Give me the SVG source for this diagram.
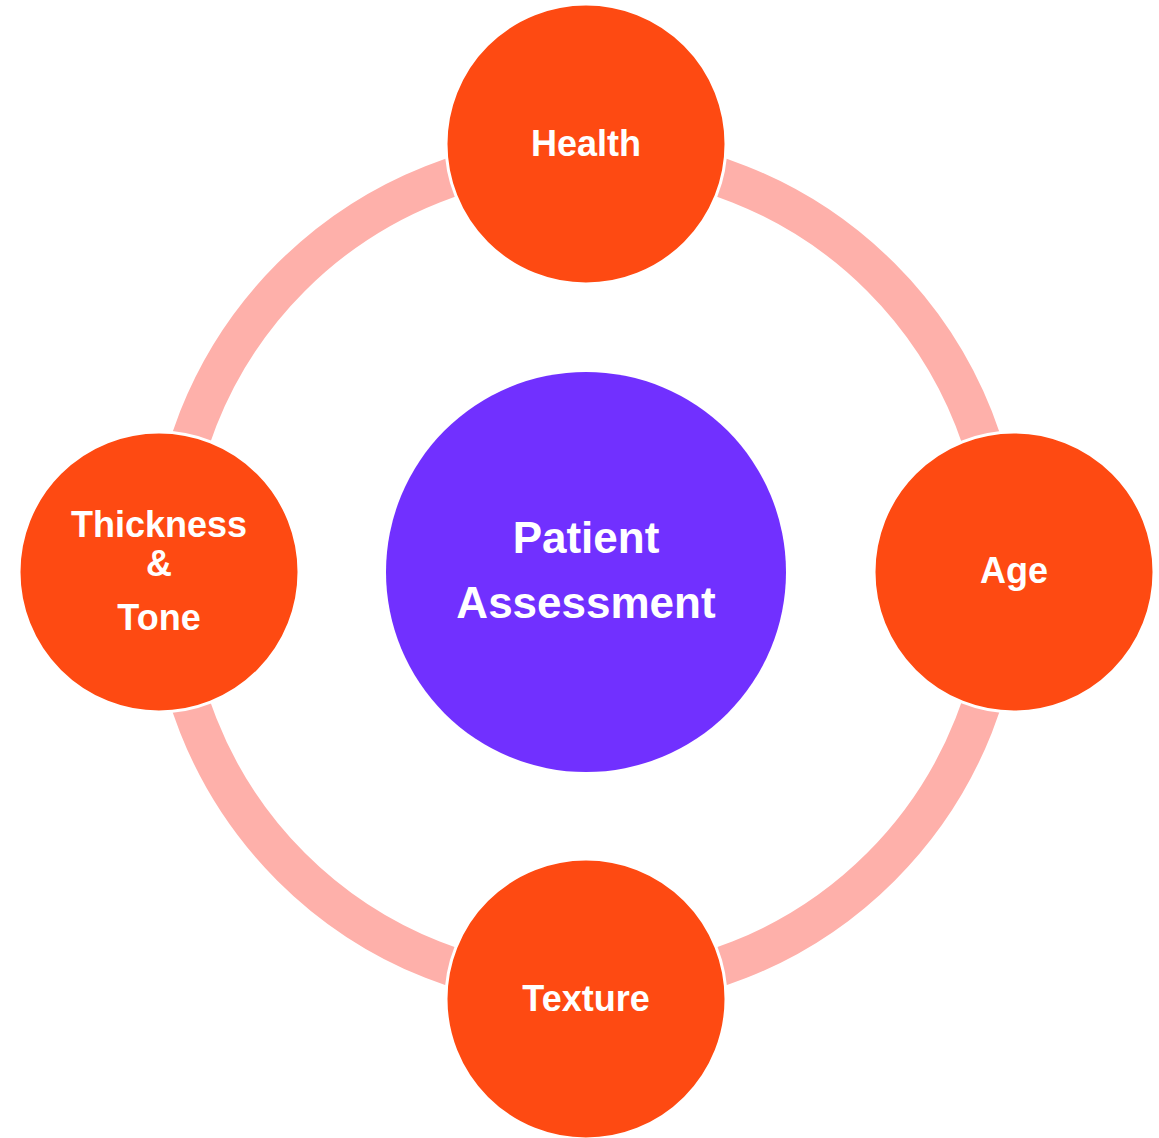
<svg xmlns="http://www.w3.org/2000/svg" width="1159" height="1138" viewBox="0 0 1159 1138">
  <style>
    .ring { fill: none; stroke: #FEB0AA; stroke-width: 39; }
    .outer { fill: #FE4A12; stroke: #FFFFFF; stroke-width: 3; }
    .center { fill: #7130FF; }
    .lbl { font-family: "Liberation Sans", Arial, sans-serif; font-weight: bold; fill: #FFFFFF; text-anchor: middle; font-size: 36px; }
    .big { font-size: 44px; }
  </style>
  <rect width="1159" height="1138" fill="#FFFFFF"/>
  <g id="connectors">
    <circle class="ring" cx="586" cy="572" r="417"/>
  </g>
  <g id="node-center">
    <circle class="center" cx="586" cy="572" r="200"/>
    <text class="lbl big" x="586" y="553">Patient</text>
    <text class="lbl big" x="586" y="618">Assessment</text>
  </g>
  <g id="node-health">
    <circle class="outer" cx="586" cy="144" r="140"/>
    <text class="lbl" x="586" y="156">Health</text>
  </g>
  <g id="node-age">
    <circle class="outer" cx="1014" cy="572" r="140"/>
    <text class="lbl" x="1014" y="583">Age</text>
  </g>
  <g id="node-texture">
    <circle class="outer" cx="586" cy="999" r="140"/>
    <text class="lbl" x="586" y="1011">Texture</text>
  </g>
  <g id="node-thickness">
    <circle class="outer" cx="159" cy="572" r="140"/>
    <text class="lbl" x="159" y="537">Thickness</text>
    <text class="lbl" x="159" y="576">&amp;</text>
    <text class="lbl" x="159" y="630">Tone</text>
  </g>
</svg>
